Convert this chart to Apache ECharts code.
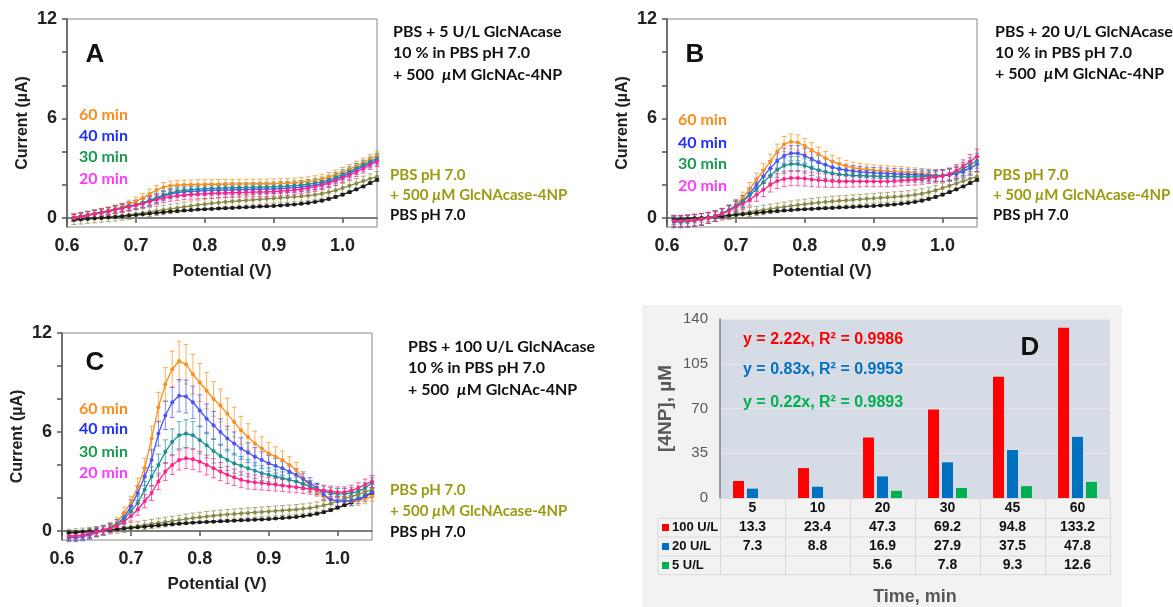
<!DOCTYPE html>
<html>
<head>
	<meta charset="utf-8">
	<title>GlcNAcase voltammograms</title>
	<style>
		html, body { margin: 0; padding: 0; background: #fff; }
		#main { width: 1173px; height: 607px; }
	</style>
</head>
<body>
	<div id="main"></div>
</body>
<script src="https://cdn.jsdelivr.net/npm/echarts@6/dist/echarts.min.js"></script>
<script>
	// potential (V), one point every 10 mV
	var potential = [0.61,0.62,0.63,0.64,0.65,0.66,0.67,0.68,0.69,0.70,
		0.71,0.72,0.73,0.74,0.75,0.76,0.77,0.78,0.79,0.80,
		0.81,0.82,0.83,0.84,0.85,0.86,0.87,0.88,0.89,0.90,
		0.91,0.92,0.93,0.94,0.95,0.96,0.97,0.98,0.99,1.00,
		1.01,1.02,1.03,1.04,1.05];

	// blanks (same in the three panels)
	var pbs = [-0.10,-0.08,-0.05,-0.02,0.00,0.03,0.06,0.10,0.14,0.18,
		0.22,0.26,0.30,0.34,0.38,0.41,0.44,0.47,0.50,0.52,
		0.54,0.56,0.58,0.60,0.62,0.64,0.66,0.68,0.70,0.72,
		0.75,0.78,0.81,0.85,0.90,0.96,1.04,1.14,1.26,1.40,
		1.55,1.72,1.90,2.10,2.30];
	var pbsErr = [0.04,0.04,0.04,0.04,0.04,0.04,0.04,0.04,0.04,0.04,
		0.04,0.04,0.04,0.05,0.05,0.05,0.05,0.05,0.05,0.05,
		0.05,0.05,0.05,0.05,0.05,0.05,0.05,0.05,0.05,0.05,
		0.05,0.05,0.05,0.05,0.05,0.05,0.06,0.06,0.06,0.06,
		0.06,0.06,0.06,0.07,0.07];
	var pbsSub = [-0.15,-0.12,-0.08,-0.04,0.00,0.04,0.08,0.13,0.18,0.24,
		0.30,0.36,0.42,0.48,0.54,0.60,0.66,0.72,0.78,0.83,
		0.88,0.92,0.96,1.00,1.03,1.06,1.09,1.12,1.15,1.18,
		1.21,1.24,1.27,1.30,1.34,1.39,1.46,1.55,1.66,1.80,
		1.94,2.08,2.22,2.36,2.50];
	var pbsSubErr = [0.25,0.25,0.25,0.26,0.26,0.26,0.27,0.27,0.27,0.28,
		0.28,0.28,0.28,0.29,0.29,0.29,0.29,0.30,0.30,0.30,
		0.30,0.30,0.30,0.30,0.30,0.30,0.30,0.30,0.30,0.30,
		0.30,0.30,0.30,0.30,0.30,0.30,0.30,0.30,0.30,0.30,
		0.30,0.30,0.30,0.30,0.30];

	// A: 5 U/L  (60, 40, 30, 20 min)
	var a60 = [0.05,0.12,0.20,0.28,0.36,0.45,0.55,0.65,0.82,1.00,
		1.20,1.45,1.68,1.85,1.94,1.98,2.00,2.01,2.02,2.02,
		2.03,2.03,2.04,2.04,2.05,2.05,2.05,2.06,2.06,2.07,
		2.08,2.10,2.12,2.15,2.20,2.26,2.35,2.46,2.60,2.76,
		2.94,3.13,3.33,3.55,3.75];
	var a40 = [0.00,0.08,0.16,0.24,0.32,0.40,0.50,0.60,0.70,0.80,
		0.90,1.02,1.16,1.32,1.44,1.52,1.57,1.60,1.62,1.64,
		1.66,1.67,1.68,1.69,1.70,1.71,1.72,1.73,1.74,1.75,
		1.77,1.79,1.82,1.86,1.91,1.98,2.07,2.19,2.34,2.51,
		2.70,2.90,3.10,3.30,3.50];
	var a30 = [0.00,0.08,0.16,0.24,0.32,0.40,0.50,0.60,0.70,0.80,
		0.92,1.06,1.22,1.38,1.50,1.60,1.66,1.70,1.73,1.76,
		1.78,1.80,1.81,1.82,1.83,1.84,1.85,1.86,1.87,1.88,
		1.90,1.92,1.95,1.98,2.03,2.10,2.18,2.30,2.45,2.62,
		2.80,3.00,3.20,3.40,3.60];
	var a20 = [0.00,0.07,0.15,0.23,0.31,0.39,0.48,0.57,0.66,0.76,
		0.86,0.98,1.10,1.20,1.28,1.34,1.38,1.41,1.43,1.45,
		1.47,1.49,1.50,1.52,1.53,1.54,1.55,1.56,1.57,1.59,
		1.61,1.64,1.68,1.73,1.80,1.88,1.98,2.10,2.24,2.40,
		2.58,2.78,2.98,3.20,3.40];
	var errA = [0.22,0.22,0.22,0.22,0.22,0.22,0.23,0.24,0.25,0.26,
		0.27,0.28,0.28,0.28,0.28,0.28,0.28,0.28,0.28,0.28,
		0.28,0.28,0.28,0.28,0.28,0.28,0.28,0.28,0.28,0.28,
		0.28,0.28,0.28,0.28,0.28,0.28,0.28,0.28,0.28,0.28,
		0.28,0.28,0.28,0.28,0.30];

	// B: 20 U/L
	var b60 = [-0.20,-0.20,-0.18,-0.14,-0.08,0.00,0.10,0.25,0.45,0.80,
		1.20,1.75,2.30,2.85,3.40,4.00,4.45,4.60,4.55,4.35,
		4.10,3.85,3.60,3.40,3.25,3.12,3.03,2.96,2.92,2.88,
		2.85,2.82,2.80,2.77,2.74,2.70,2.66,2.62,2.58,2.56,
		2.60,2.70,2.85,3.00,3.20];
	var b40 = [-0.20,-0.20,-0.18,-0.14,-0.08,0.00,0.10,0.25,0.45,0.70,
		1.00,1.45,2.00,2.50,3.00,3.45,3.75,3.90,3.90,3.75,
		3.55,3.35,3.20,3.05,2.95,2.88,2.82,2.78,2.75,2.72,
		2.70,2.68,2.66,2.64,2.62,2.60,2.58,2.56,2.55,2.55,
		2.58,2.65,2.80,3.00,3.25];
	var b30 = [-0.25,-0.25,-0.22,-0.17,-0.10,0.00,0.12,0.28,0.48,0.75,
		1.00,1.35,1.75,2.15,2.55,2.90,3.15,3.25,3.25,3.15,
		3.00,2.88,2.78,2.70,2.64,2.60,2.57,2.55,2.53,2.52,
		2.50,2.50,2.49,2.48,2.48,2.48,2.48,2.50,2.52,2.55,
		2.62,2.75,2.95,3.20,3.45];
	var b20 = [-0.20,-0.20,-0.18,-0.14,-0.08,0.00,0.10,0.25,0.42,0.65,
		0.85,1.10,1.40,1.70,2.00,2.22,2.35,2.40,2.40,2.37,
		2.32,2.28,2.25,2.22,2.20,2.20,2.20,2.20,2.20,2.20,
		2.20,2.20,2.22,2.25,2.28,2.30,2.35,2.40,2.45,2.52,
		2.65,2.85,3.10,3.40,3.70];
	var errB = [0.35,0.35,0.35,0.35,0.35,0.33,0.32,0.30,0.30,0.32,
		0.35,0.38,0.40,0.42,0.44,0.45,0.46,0.46,0.46,0.45,
		0.44,0.42,0.40,0.38,0.36,0.35,0.34,0.33,0.32,0.32,
		0.32,0.32,0.32,0.32,0.32,0.32,0.32,0.33,0.34,0.35,
		0.36,0.38,0.40,0.42,0.45];

	// C: 100 U/L
	var c60 = [-0.30,-0.30,-0.25,-0.20,-0.10,0.00,0.20,0.50,1.10,1.70,
		2.70,3.80,5.60,7.50,8.90,9.80,10.30,10.10,9.50,9.00,
		8.50,8.00,7.60,7.10,6.60,6.10,5.70,5.30,5.00,4.70,
		4.50,4.30,4.00,3.70,3.20,2.70,2.40,2.10,1.90,1.80,
		1.80,1.80,1.85,1.95,2.10];
	var c40 = [-0.40,-0.40,-0.35,-0.25,-0.10,0.00,0.15,0.40,0.80,1.50,
		2.30,3.30,4.30,5.90,7.00,7.80,8.20,8.15,7.80,7.30,
		6.80,6.40,6.00,5.60,5.30,5.00,4.75,4.50,4.30,4.10,
		3.95,3.80,3.60,3.40,3.15,2.90,2.60,2.20,1.90,1.80,
		1.80,1.85,1.95,2.10,2.35];
	var c30 = [-0.30,-0.30,-0.25,-0.15,-0.05,0.05,0.20,0.40,0.70,1.20,
		1.70,2.50,3.30,4.00,4.80,5.40,5.80,5.90,5.80,5.50,
		5.20,4.85,4.55,4.30,4.10,3.95,3.80,3.65,3.50,3.40,
		3.30,3.20,3.10,3.00,2.85,2.70,2.55,2.40,2.30,2.25,
		2.25,2.30,2.40,2.60,2.90];
	var c20 = [-0.30,-0.30,-0.25,-0.15,-0.05,0.05,0.15,0.30,0.55,0.90,
		1.30,1.80,2.30,3.00,3.60,4.00,4.30,4.40,4.35,4.20,
		4.00,3.80,3.60,3.40,3.25,3.10,3.00,2.95,2.90,2.85,
		2.80,2.75,2.70,2.65,2.60,2.55,2.50,2.45,2.40,2.35,
		2.35,2.45,2.60,2.80,3.00];
	var errC60 = [0.25,0.25,0.25,0.25,0.25,0.25,0.25,0.30,0.35,0.40,
		0.50,0.60,0.75,0.90,1.00,1.10,1.20,1.20,1.20,1.15,
		1.10,1.05,1.00,0.95,0.90,0.85,0.80,0.75,0.70,0.65,
		0.60,0.55,0.50,0.45,0.40,0.35,0.30,0.30,0.30,0.30,
		0.30,0.30,0.30,0.30,0.30];
	var errC40 = [0.25,0.25,0.25,0.25,0.25,0.25,0.25,0.28,0.32,0.38,
		0.45,0.55,0.65,0.75,0.85,0.92,0.98,1.00,0.98,0.95,
		0.90,0.85,0.80,0.75,0.70,0.65,0.60,0.55,0.50,0.48,
		0.45,0.42,0.40,0.38,0.35,0.33,0.30,0.30,0.30,0.30,
		0.30,0.30,0.30,0.30,0.30];
	var errC30 = [0.30,0.30,0.30,0.30,0.30,0.30,0.30,0.30,0.32,0.36,
		0.42,0.50,0.58,0.66,0.72,0.78,0.82,0.84,0.84,0.82,
		0.78,0.74,0.70,0.65,0.60,0.56,0.52,0.48,0.45,0.42,
		0.40,0.38,0.36,0.35,0.34,0.33,0.32,0.32,0.32,0.32,
		0.32,0.32,0.32,0.32,0.32];
	var errC20 = [0.25,0.25,0.25,0.25,0.25,0.25,0.25,0.25,0.28,0.30,
		0.35,0.40,0.45,0.50,0.55,0.58,0.60,0.62,0.62,0.62,
		0.60,0.58,0.55,0.52,0.50,0.48,0.46,0.44,0.42,0.40,
		0.38,0.36,0.35,0.34,0.33,0.32,0.32,0.32,0.32,0.32,
		0.32,0.32,0.32,0.34,0.36];

	// D: [4NP] vs time
	var times = ['5', '10', '20', '30', '45', '60'];
	var u100 = [13.3, 23.4, 47.3, 69.2, 94.8, 133.2];
	var u20 = [7.3, 8.8, 16.9, 27.9, 37.5, 47.8];
	var u5 = [null, null, 5.6, 7.8, 9.3, 12.6];

	var lineColors = ['#f7901e', '#4a55f5', '#1f8e94', '#ff2288'];
	var textColors = ['#ff8c1a', '#1f2fff', '#179a4c', '#ff3cff'];
	var oliveLine = '#8a8a48', oliveText = '#9b9b12';
	var axisFont = 'Liberation Sans', annFont = 'Lato';

	var myChart = echarts.init(document.getElementById('main'));

	function cvX(g) {
		return {
			type: 'value', gridIndex: g, min: 0.6, max: 1.05,
			name: 'Potential (V)', nameLocation: 'middle', nameGap: 36,
			nameTextStyle: { fontFamily: axisFont, fontWeight: 'bold', fontSize: 17, color: '#222' },
			axisLine: { lineStyle: { color: '#555', width: 1.5 } },
			axisTick: { show: true, customValues: [0.6, 0.7, 0.8, 0.9, 1.0], length: 5, lineStyle: { color: '#555', width: 1.5 } },
			axisLabel: { customValues: [0.6, 0.7, 0.8, 0.9, 1.0], formatter: function (v) { return v.toFixed(1); },
				margin: 10, fontFamily: axisFont, fontWeight: 'bold', fontSize: 18, color: '#222' },
			splitLine: { show: false }
		};
	}
	function cvY(g) {
		return {
			type: 'value', gridIndex: g, min: -0.55, max: 12,
			name: 'Current (µA)', nameLocation: 'middle', nameGap: 36,
			nameTextStyle: { fontFamily: axisFont, fontWeight: 'bold', fontSize: 16, color: '#222' },
			axisLine: { show: true, lineStyle: { color: '#555', width: 1.5 } },
			axisTick: { show: true, customValues: [0, 2, 4, 6, 8, 10, 12], length: 5, lineStyle: { color: '#555', width: 1.5 } },
			axisLabel: { customValues: [0, 6, 12], margin: 10, fontFamily: axisFont, fontWeight: 'bold', fontSize: 18, color: '#222' },
			splitLine: { show: false }
		};
	}

	var series = [];
	function addCurve(g, ys, es, color) {
		series.push({
			type: 'custom', xAxisIndex: g, yAxisIndex: g, silent: true, animation: false,
			encode: { x: 0, y: 1 },
			data: potential.map(function (p, i) { return [p, ys[i], es[i]]; }),
			renderItem: function (params, api) {
				var x = api.value(0), y = api.value(1), e = api.value(2);
				var hi = api.coord([x, y + e]), lo = api.coord([x, y - e]);
				var st = { stroke: color, lineWidth: 1, opacity: 0.7 };
				return { type: 'group', children: [
					{ type: 'line', shape: { x1: hi[0], y1: hi[1], x2: lo[0], y2: lo[1] }, style: st },
					{ type: 'line', shape: { x1: hi[0] - 2.5, y1: hi[1], x2: hi[0] + 2.5, y2: hi[1] }, style: st },
					{ type: 'line', shape: { x1: lo[0] - 2.5, y1: lo[1], x2: lo[0] + 2.5, y2: lo[1] }, style: st }
				] };
			}
		});
		series.push({
			type: 'line', xAxisIndex: g, yAxisIndex: g, silent: true, animation: false,
			symbol: 'circle', symbolSize: 4, showSymbol: true,
			lineStyle: { color: color, width: 1.3 }, itemStyle: { color: color },
			data: potential.map(function (p, i) { return [p, ys[i]]; })
		});
	}

	var panels = [
		{ g: 0, curves: [a60, a40, a30, a20], errs: [errA, errA, errA, errA] },
		{ g: 1, curves: [b60, b40, b30, b20], errs: [errB, errB, errB, errB] },
		{ g: 2, curves: [c60, c40, c30, c20], errs: [errC60, errC40, errC30, errC20] }
	];
	panels.forEach(function (p) {
		addCurve(p.g, pbsSub, pbsSubErr, oliveLine);
		addCurve(p.g, pbs, pbsErr, '#1a1a1a');
		p.curves.forEach(function (c, k) { addCurve(p.g, c, p.errs[k], lineColors[k]); });
	});

	// D bars
	var barNames = ['100 U/L', '20 U/L', '5 U/L'];
	var barColors = ['#ff0000', '#0070c0', '#00b050'];
	[u100, u20, u5].forEach(function (d, k) {
		series.push({
			type: 'bar', name: barNames[k], xAxisIndex: 3, yAxisIndex: 3, animation: false,
			barWidth: 11, barGap: '27%', itemStyle: { color: barColors[k] }, data: d
		});
	});

	// text helpers
	function label(x, y, text, color, size, family, align) {
		return { type: 'text', x: x, y: y, z: 50, silent: true, style: {
			text: text, fill: color, fontSize: size || 16, fontWeight: 'bold',
			fontFamily: family || annFont, verticalAlign: 'middle', align: align || 'left' } };
	}
	function muLabel(x, y, pre, post, color, size) {
		size = size || 16;
		return { type: 'text', x: x, y: y, z: 50, silent: true, style: {
			text: '{n|' + pre + '}{i|µ}{n|' + post + '}', verticalAlign: 'middle',
			rich: {
				n: { fill: color, fontSize: size, fontWeight: 'bold', fontFamily: annFont },
				i: { fill: color, fontSize: size, fontWeight: 'bold', fontStyle: 'italic', fontFamily: annFont }
			} } };
	}
	var mins = ['60 min', '40 min', '30 min', '20 min'];
	function minLabels(x, ys) {
		return mins.map(function (m, k) { return label(x, ys[k], m, textColors[k]); });
	}
	function blankLabels(x, ys) {
		return [label(x, ys[0], 'PBS pH 7.0', oliveText, 15),
			muLabel(x, ys[1], '+ 500 ', 'M GlcNAcase-4NP', oliveText, 15),
			label(x, ys[2], 'PBS pH 7.0', '#111', 15)];
	}
	function condLabels(x, ys, units) {
		return [label(x, ys[0], 'PBS + ' + units + ' U/L GlcNAcase', '#111'),
			label(x, ys[1], '10 % in PBS pH 7.0', '#111'),
			muLabel(x, ys[2], '+ 500  ', 'M GlcNAc-4NP', '#111')];
	}

	var tableLine = '#d9d9d9';
	var graphics = [
		{ type: 'rect', z: -10, silent: true, shape: { x: 642, y: 305, width: 480, height: 310 }, style: { fill: '#f2f2f2' } },
		label(95, 55, 'A', '#111', 26, axisFont, 'center'),
		label(695, 55, 'B', '#111', 26, axisFont, 'center'),
		label(95, 363, 'C', '#111', 26, axisFont, 'center'),
		label(1030, 348, 'D', '#111', 26, axisFont, 'center'),
		label(743, 340, 'y = 2.22x, R² = 0.9986', '#ff0000', 16, axisFont),
		label(743, 370, 'y = 0.83x, R² = 0.9953', '#0070c0', 16, axisFont),
		label(743, 403, 'y = 0.22x, R² = 0.9893', '#00b050', 16, axisFont)
	];
	graphics = graphics.concat(
		minLabels(79, [115, 136, 157, 179]),
		minLabels(678, [120, 143, 164, 186]),
		minLabels(79, [409, 429, 452, 473]),
		condLabels(393, [32, 53, 75], '5'),
		condLabels(995, [32, 53, 74], '20'),
		condLabels(408, [347, 368, 390], '100'),
		blankLabels(390, [175, 195, 215]),
		blankLabels(993, [175, 195, 215]),
		blankLabels(390, [490, 511, 532])
	);
	// data table rows of panel D
	[518.3, 537, 556, 574.7].forEach(function (y) {
		graphics.push({ type: 'line', silent: true, shape: { x1: 658, y1: y, x2: 1110, y2: y }, style: { stroke: tableLine, lineWidth: 1 } });
	});
	graphics.push({ type: 'line', silent: true, shape: { x1: 658, y1: 518.3, x2: 658, y2: 574.7 }, style: { stroke: tableLine, lineWidth: 1 } });
	[527.5, 546.5, 565.5].forEach(function (y, k) {
		graphics.push({ type: 'rect', silent: true, shape: { x: 662, y: y - 3.5, width: 7, height: 7 }, style: { fill: barColors[k] } });
		graphics.push(label(672, y, barNames[k], '#111', 13, axisFont));
	});

	option = {
		backgroundColor: '#fff',
		animation: false,
		grid: [
			{ left: 67, top: 19, width: 310, height: 208, show: true, borderColor: '#888', borderWidth: 1, outerBoundsMode: 'none' },
			{ left: 667, top: 19, width: 310, height: 208, show: true, borderColor: '#888', borderWidth: 1, outerBoundsMode: 'none' },
			{ left: 62, top: 333, width: 310, height: 207, show: true, borderColor: '#888', borderWidth: 1, outerBoundsMode: 'none' },
			{ left: 720, top: 319, width: 390, height: 179, show: true, backgroundColor: '#d6dce5', borderWidth: 0, outerBoundsMode: 'none' }
		],
		xAxis: [cvX(0), cvX(1), cvX(2), {
			type: 'category', gridIndex: 3, data: times,
			name: 'Time, min', nameLocation: 'middle', nameGap: 90,
			nameTextStyle: { fontFamily: axisFont, fontWeight: 'bold', fontSize: 18, color: '#595959' },
			axisLine: { lineStyle: { color: tableLine, width: 1 } },
			axisTick: { show: true, interval: 0, alignWithLabel: false, length: 77, lineStyle: { color: tableLine } },
			axisLabel: {
				interval: 0, margin: 1, lineHeight: 19, fontFamily: axisFont, fontWeight: 'bold', fontSize: 14, color: '#111',
				formatter: function (v, i) {
					return [v, u100[i], u20[i], u5[i] == null ? '' : u5[i]].join('\n');
				}
			}
		}],
		yAxis: [cvY(0), cvY(1), cvY(2), {
			type: 'value', gridIndex: 3, min: 0, max: 140, interval: 35,
			name: '[4NP], µM', nameLocation: 'middle', nameGap: 45,
			nameTextStyle: { fontFamily: axisFont, fontWeight: 'bold', fontSize: 19, color: '#595959' },
			axisLine: { show: true, lineStyle: { color: '#7f7f7f', width: 1.5 } },
			axisTick: { show: false },
			axisLabel: { margin: 12, fontFamily: axisFont, fontSize: 15, color: '#595959' },
			splitLine: { lineStyle: { color: '#e4e8ee', width: 1 } }
		}],
		graphic: graphics,
		series: series
	};
	myChart.setOption(option);
</script>
</html>
